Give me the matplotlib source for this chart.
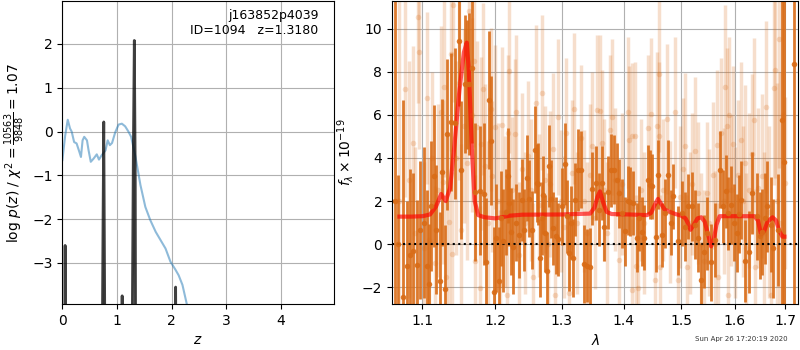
import numpy as np
import matplotlib.pyplot as plt
from matplotlib.ticker import NullLocator

# redshift PDF (spikes) and scaled chi2 curve
pz_z = [0.00, 0.035, 0.05, 0.065, 0.08, 0.70, 0.725, 0.745, 0.758, 0.775, 0.80,
        1.08, 1.095, 1.11, 1.26, 1.28, 1.30, 1.318, 1.335, 1.35, 2.05, 2.075,
        2.10, 4.97]
pz_logp = [-10, -10, -2.6, -10, -10, -10, -6.0, -2.0, 0.22, -4.0, -10,
           -10, -3.75, -10, -10, -4.5, -0.5, 2.08, -1.0, -10, -10, -3.55,
           -10, -10]

chi_z = [0.0, 0.05, 0.098, 0.14, 0.17, 0.215, 0.26, 0.31, 0.34, 0.37, 0.40,
         0.45, 0.48, 0.52, 0.57, 0.63, 0.67, 0.72, 0.79, 0.83, 0.87, 0.91,
         0.97, 1.03, 1.09, 1.15, 1.21, 1.26, 1.34, 1.43, 1.52, 1.61, 1.71,
         1.80, 1.89, 1.98, 2.07, 2.13, 2.20, 2.28, 2.32]
chi_val = [-0.65, -0.1, 0.27, 0.07, 0.0, -0.24, -0.27, -0.46, -0.58, -0.2,
           -0.12, -0.2, -0.43, -0.69, -0.62, -0.52, -0.64, -0.54, -0.43, -0.2,
           -0.31, -0.26, -0.01, 0.16, 0.18, 0.12, 0.0, -0.12, -0.58, -1.22,
           -1.72, -2.02, -2.29, -2.48, -2.67, -2.97, -3.15, -3.28, -3.5,
           -3.94, -4.3]

# spectrum, first orientation (dark)
wave_a = [1.0640, 1.0682, 1.0745, 1.0797, 1.0840, 1.0874, 1.0927, 1.0961,
          1.1014, 1.1059, 1.1081, 1.1117, 1.1148, 1.1184, 1.1229, 1.1261,
          1.1306, 1.1329, 1.1386, 1.1441, 1.1486, 1.1523, 1.1570, 1.1602,
          1.1634, 1.1672, 1.1718, 1.1790, 1.1837, 1.1875, 1.1908, 1.1942,
          1.1980, 1.2020, 1.2058, 1.2090, 1.2120, 1.2160, 1.2192, 1.2207,
          1.2230, 1.2266, 1.2310, 1.2350, 1.2390, 1.2429, 1.2463, 1.2503,
          1.2540, 1.2590, 1.2614, 1.2639, 1.2665, 1.2690, 1.2715, 1.2740,
          1.2767, 1.2807, 1.2833, 1.2868, 1.2904, 1.2946, 1.2997, 1.3049,
          1.3080, 1.3110, 1.3145, 1.3178, 1.3214, 1.3258, 1.3300, 1.3352,
          1.3405, 1.3451, 1.3483, 1.3547, 1.3600, 1.3638, 1.3682, 1.3736,
          1.3791, 1.3847, 1.3885, 1.3924, 1.3980, 1.4025, 1.4070, 1.4109,
          1.4165, 1.4222, 1.4265, 1.4308, 1.4354, 1.4411, 1.4451, 1.4492,
          1.4550, 1.4596, 1.4655, 1.4713, 1.4772, 1.4815, 1.4860, 1.4938,
          1.5010, 1.5070, 1.5132, 1.5193, 1.5250, 1.5304, 1.5365, 1.5419,
          1.5481, 1.5556, 1.5631, 1.5714, 1.5778, 1.5823, 1.5874, 1.5926,
          1.5980, 1.6036, 1.6080, 1.6122, 1.6201, 1.6268, 1.6334, 1.6434,
          1.6480, 1.6535, 1.6590, 1.6636, 1.6700, 1.6752, 1.6842, 1.6932,
          1.6967, 1.7171]
flux_a = [2.0, 0.0, -2.43, -1.0, -0.5, -0.3, -0.96, 0.67,
          1.0, -1.0, -1.84, 1.78, 3.15, 0.67, -1.70, 3.33,
          -2.10, 5.09, 5.66, 5.60, 9.43, 3.46, 7.41, 7.41,
          7.44, 8.19, 2.40, 2.48, 2.34, -0.84, 6.68, 4.81,
          -2.20, 0.3, -1.69, 1.2, 0.17, 1.5, 3.18, 1.91,
          0.59, -0.11, 1.0, 0.43, 2.06, 0.67, 3.07, 2.12,
          0.67, 4.39, 2.84, 2.79, -0.65, 1.2, 2.29, 0.5,
          -1.22, 3.64, 2.09, 0.73, 0.40, 0.23, 1.75, 3.71,
          1.3, -0.39, 1.0, -0.65, 2.06, 3.43, 3.46, -0.91,
          -0.99, -1.04, 2.57, 2.84, 1.6, 2.84, 0.82, 2.40,
          3.43, 3.46, 2.99, 2.37, 1.44, 0.6, 2.02, 1.98,
          1.91, 0.31, 1.2, 0.59, 0.31, 2.99, 2.76, 2.68,
          0.33, 3.22, 0.43, 1.44, 3.22, 1.0, 2.22, 0.16,
          1.44, 0.8, 1.75, 1.75, 0.9, 0.31, -1.66, -0.34,
          0.51, -0.84, 0.20, 3.46, 1.75, 2.45, 1.44, 1.83,
          1.0, 0.51, 1.4, 2.06, -0.78, -0.37, 2.37, 1.29,
          0.4, 0.56, 1.2, 1.75, 0.9, -0.19, 0.67, 5.74,
          3.81, 8.34]
err_a = [14.0, 3.2, 9.1, 3.0, 4.0, 3.6, 3.0, 3.2,
         3.5, 3.5, 2.8, 3.0, 3.3, 3.0, 3.2, 3.4,
         3.0, 3.5, 3.2, 3.5, 3.0, 3.2, 3.2, 3.0,
         3.3, 3.5, 3.2, 3.0, 3.3, 3.0, 3.2, 3.0,
         3.0, 2.5, 2.5, 2.2, 2.4, 2.0, 2.2, 2.0,
         2.0, 2.2, 1.8, 2.0, 1.9, 1.9, 2.0, 1.8,
         1.8, 2.0, 1.8, 1.9, 1.8, 1.7, 1.8, 1.8,
         1.8, 1.9, 1.8, 1.7, 1.8, 1.7, 1.8, 1.9,
         1.7, 1.8, 1.7, 1.8, 1.7, 1.9, 1.8, 1.8,
         1.7, 1.8, 1.7, 1.7, 1.7, 1.7, 1.6, 1.7,
         1.7, 1.6, 1.7, 1.6, 1.6, 1.6, 1.6, 1.6,
         1.5, 1.6, 1.5, 1.6, 1.5, 1.6, 1.6, 1.5,
         1.6, 1.6, 1.5, 1.6, 1.6, 1.5, 1.5, 1.6,
         1.5, 1.6, 1.5, 1.6, 1.6, 1.6, 1.7, 1.7,
         1.7, 1.8, 1.7, 1.8, 1.7, 1.7, 1.7, 1.8,
         1.8, 1.8, 1.8, 1.8, 1.9, 1.9, 1.9, 2.0,
         2.0, 2.0, 2.1, 2.1, 2.2, 2.3, 2.6, 12.0,
         9.0, 14.0]

# spectrum, second orientation (light)
wave_b = [1.0700, 1.0775, 1.0820, 1.0871, 1.0900, 1.0940, 1.0958, 1.1014,
          1.1059, 1.1090, 1.1130, 1.1170, 1.1210, 1.1252, 1.1269, 1.1283,
          1.1320, 1.1360, 1.1386, 1.1395, 1.1409, 1.1450, 1.1490, 1.1523,
          1.1560, 1.1600, 1.1630, 1.1670, 1.1705, 1.1720, 1.1743, 1.1789,
          1.1800, 1.1830, 1.1860, 1.1900, 1.1935, 1.1950, 1.2000, 1.2040,
          1.2070, 1.2105, 1.2150, 1.2180, 1.2190, 1.2203, 1.2250, 1.2285,
          1.2300, 1.2350, 1.2400, 1.2440, 1.2488, 1.2530, 1.2565, 1.2600,
          1.2650, 1.2698, 1.2740, 1.2780, 1.2820, 1.2860, 1.2888, 1.2946,
          1.2990, 1.3030, 1.3065, 1.3119, 1.3160, 1.3196, 1.3240, 1.3300,
          1.3350, 1.3400, 1.3440, 1.3483, 1.3530, 1.3565, 1.3611, 1.3640,
          1.3680, 1.3720, 1.3780, 1.3800, 1.3850, 1.3930, 1.3980, 1.4070,
          1.4100, 1.4137, 1.4150, 1.4190, 1.4205, 1.4240, 1.4290, 1.4350,
          1.4410, 1.4475, 1.4532, 1.4572, 1.4600, 1.4612, 1.4625, 1.4680,
          1.4742, 1.4800, 1.4888, 1.4938, 1.4980, 1.5040, 1.5080, 1.5100,
          1.5160, 1.5200, 1.5260, 1.5310, 1.5360, 1.5420, 1.5480, 1.5520,
          1.5580, 1.5630, 1.5665, 1.5680, 1.5742, 1.5790, 1.5820, 1.5853,
          1.5870, 1.5887, 1.5930, 1.5964, 1.6010, 1.6060, 1.6127, 1.6160,
          1.6201, 1.6220, 1.6270, 1.6334, 1.6381, 1.6390, 1.6450, 1.6520,
          1.6560, 1.6618, 1.6670, 1.6700, 1.6777, 1.6790, 1.6830, 1.6860,
          1.6900, 1.6960, 1.7000]
flux_b = [2.0, 7.2, 3.0, 4.7, 0.5, 10.56, 8.93, -0.17,
          6.79, 0.2, 4.0, -0.88, 2.5, 6.12, 2.87, 7.30,
          -1.5, 1.05, 8.81, -0.45, 11.1, 4.0, 7.5, 0.67,
          5.5, 3.77, 10.8, 6.0, 8.5, -0.8, 5.44, -2.05,
          4.67, 7.2, 3.64, 1.0, 6.25, 3.15, 5.43, 2.0,
          -1.89, 5.55, 1.5, -2.36, 5.16, 8.03, 2.5, 5.10,
          6.12, -0.5, 3.5, 1.0, 4.08, 2.5, -1.50, 6.56,
          1.8, 7.02, 3.0, 0.0, 2.8, 4.42, -2.36, 5.90,
          2.0, 0.8, 5.16, -2.25, 3.3, 6.28, 1.0, 4.93,
          2.0, 0.5, 3.2, 4.57, 1.2, 6.22, 6.20, 4.70,
          2.5, 0.5, 5.30, 5.90, 3.0, -0.73, 2.8, 6.12,
          4.85, 5.0, -2.12, 5.04, -1.0, -2.05, 2.5, 1.0,
          5.40, 6.06, -1.66, 5.50, 7.88, 5.04, -1.04, 2.5,
          5.81, 1.5, 6.12, -1.66, 2.2, 3.5, 4.54, -1.04,
          1.0, 2.8, 4.34, 2.37, 0.0, -0.8, 2.37, 1.0,
          3.2, 0.0, 4.59, -1.50, 5.16, 2.0, 7.30, 5.50,
          -2.36, 6.00, 2.5, 4.67, 1.0, 3.2, 4.85, 2.0,
          3.77, -0.19, 2.5, 4.20, 5.78, -1.04, 2.6, 3.15,
          0.5, 6.36, 1.5, -2.36, 7.26, 8.08, 2.0, 9.53,
          1.0, 6.0, 2.84]
err_b = [12.0, 5.0, 5.5, 4.5, 4.0, 4.0, 4.5, 4.0,
         4.0, 3.8, 4.0, 3.6, 4.0, 4.0, 3.8, 4.2,
         3.5, 4.0, 4.5, 3.8, 4.5, 4.5, 4.5, 4.0,
         4.5, 4.5, 4.5, 4.5, 4.0, 4.0, 4.0, 3.8,
         4.0, 4.0, 3.8, 3.8, 3.8, 3.5, 3.8, 3.6,
         3.5, 3.6, 3.5, 3.5, 3.6, 3.8, 3.4, 3.5,
         3.6, 3.4, 3.5, 3.3, 3.5, 3.3, 3.4, 3.6,
         3.3, 3.6, 3.4, 3.3, 3.4, 3.5, 3.3, 3.6,
         3.3, 3.3, 3.5, 3.3, 3.4, 3.5, 3.3, 3.4,
         3.3, 3.3, 3.3, 3.4, 3.3, 3.5, 3.5, 3.4,
         3.3, 3.3, 3.5, 3.6, 3.3, 3.3, 3.3, 3.5,
         3.4, 3.4, 3.3, 3.4, 3.3, 3.3, 3.3, 3.3,
         3.4, 3.5, 3.3, 3.4, 3.6, 3.4, 3.3, 3.3,
         3.5, 3.3, 3.5, 3.3, 3.3, 3.3, 3.4, 3.3,
         3.3, 3.3, 3.4, 3.3, 3.3, 3.3, 3.3, 3.4,
         3.4, 3.4, 3.5, 3.4, 3.5, 3.4, 3.8, 3.6,
         3.5, 3.6, 3.5, 3.6, 3.5, 3.5, 3.6, 3.5,
         3.6, 3.5, 3.6, 3.7, 3.8, 3.6, 3.7, 3.8,
         3.8, 4.0, 4.0, 4.0, 4.5, 5.0, 5.5, 6.0,
         7.0, 9.0, 4.0]

# best-fit model
model_wave = [1.070, 1.085, 1.100, 1.110, 1.118, 1.1249, 1.131, 1.137,
              1.143, 1.150, 1.156, 1.160, 1.163, 1.167, 1.171, 1.176,
              1.185, 1.200, 1.210, 1.220, 1.240, 1.300, 1.345, 1.352,
              1.357, 1.361, 1.366, 1.372, 1.380, 1.410, 1.440, 1.447,
              1.453, 1.459, 1.465, 1.471, 1.480, 1.490, 1.500, 1.508,
              1.513, 1.517, 1.523, 1.530, 1.537, 1.543, 1.549, 1.555,
              1.560, 1.565, 1.571, 1.580, 1.610, 1.638, 1.645, 1.651,
              1.657, 1.664, 1.674, 1.681, 1.688, 1.694, 1.698]
model_flux = [1.28, 1.28, 1.30, 1.38, 1.75, 2.33, 2.0, 2.6,
              4.6, 7.2, 8.9, 9.35, 8.0, 4.5, 2.0, 1.35,
              1.25, 1.2, 1.25, 1.32, 1.37, 1.38, 1.42, 1.7,
              2.2, 2.45, 1.95, 1.5, 1.4, 1.38, 1.35, 1.45,
              1.8, 2.1, 1.85, 1.6, 1.5, 1.4, 1.33, 1.2,
              0.95, 0.67, 0.9, 1.2, 1.25, 1.05, 0.5, -0.1,
              0.2, 0.9, 1.3, 1.3, 1.3, 1.3, 1.1, 0.45,
              0.6, 1.05, 1.25, 1.1, 0.6, 0.35, 0.35]

dark_color = "#d96c17"


def plot_pz(ax):
    ax.plot(chi_z, chi_val, color="C0", alpha=0.5, lw=1.5)
    ax.fill_between(pz_z, pz_logp, -10, color="k", alpha=0.2, lw=0)
    ax.plot(pz_z, pz_logp, color="k", alpha=0.75, lw=2)
    ax.text(0.945, 0.975, "j163852p4039\nID=1094   z=1.3180", ha="right", va="top",
            transform=ax.transAxes, fontsize=9, linespacing=1.2)
    ax.set_xlim(0, 4.97)
    ax.set_ylim(-3.94, 2.98)
    ax.set_xticks([0, 1, 2, 3, 4])
    ax.set_yticks([-3, -2, -1, 0, 1, 2])
    ax.set_xlabel("$z$", fontsize=10)
    ax.set_ylabel(r"log $p(z)$ / $\chi^2=\frac{10563}{9848}=1.07$", fontsize=10)
    ax.grid(True)


def plot_spectrum(ax):
    ax.errorbar(wave_b, flux_b, yerr=err_b, marker="o", ms=4, ls="none",
                color=dark_color, alpha=0.22, elinewidth=2.5, capsize=0, mew=0)
    ax.errorbar(wave_a, flux_a, yerr=err_a, marker="o", ms=4, ls="none",
                color=dark_color, alpha=0.9, elinewidth=2, capsize=0, mew=0)
    ax.plot(model_wave, model_flux, color="red", alpha=0.65, lw=3)
    ax.axhline(0, color="k", ls=":", lw=1.5)
    ax.set_xscale("log")
    ax.set_xlim(1.0605, 1.7267)
    ax.set_ylim(-2.78, 11.28)
    ticks = [1.1, 1.2, 1.3, 1.4, 1.5, 1.6, 1.7]
    ax.set_xticks(ticks)
    ax.set_xticklabels([str(t) for t in ticks])
    ax.xaxis.set_minor_locator(NullLocator())
    ax.set_yticks([-2, 0, 2, 4, 6, 8, 10])
    ax.set_xlabel(r"$\lambda$", fontsize=10)
    ax.set_ylabel(r"$f_\lambda \times 10^{-19}$", fontsize=10)
    ax.grid(True)


def main():
    fig = plt.figure(figsize=(8, 3.5), dpi=100)
    ax1 = fig.add_axes([0.078, 0.131, 0.339, 0.866])
    ax2 = fig.add_axes([0.49, 0.131, 0.508, 0.866])

    plot_pz(ax1)
    plot_spectrum(ax2)

    fig.text(0.985, 0.022, "Sun Apr 26 17:20:19 2020", ha="right", va="bottom",
             fontsize=5, color="0.2")

    fig.savefig("out.png", dpi=100)


if __name__ == "__main__":
    main()
